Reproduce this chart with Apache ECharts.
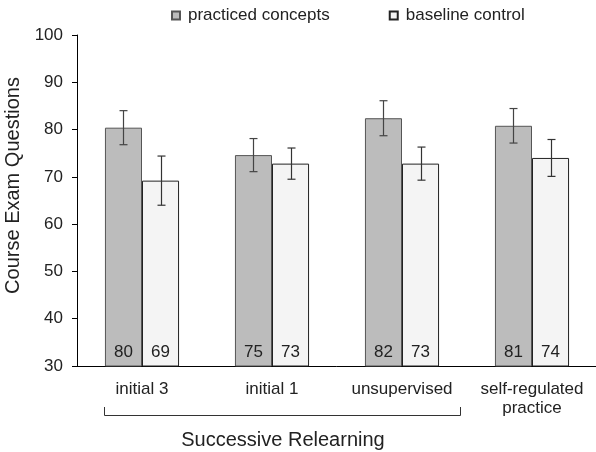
<!DOCTYPE html>
<html>
<head>
<meta charset="utf-8">
<script src="https://cdn.jsdelivr.net/npm/echarts@6/dist/echarts.min.js"></script>
<style>html,body{margin:0;padding:0;background:#fff}#c{width:596px;height:452px}</style>
</head>
<body>
<div id="c"></div>
<script>
const categories = ['initial 3', 'initial 1', 'unsupervised', 'self-regulated\npractice'];
const practiced = [80.4, 74.6, 82.4, 80.8];
const baseline = [69.2, 72.8, 72.8, 74.0];
const practicedErr = [3.6, 3.5, 3.7, 3.65];
const baselineErr = [5.2, 3.3, 3.5, 3.9];
const yTicks = [30, 40, 50, 60, 70, 80, 90, 100];
const seriesNames = ['practiced concepts', 'baseline control'];

const FONT = 'Liberation Sans, Arial, Helvetica, sans-serif';
const BAR_FRAC = 0.285;

const chart = echarts.init(document.getElementById('c'), null, {renderer: 'canvas'});

function errSeries(vals, errs, side, color) {
  return {
    type: 'custom',
    silent: true,
    z: 10,
    data: vals.map((v, i) => [i, v - errs[i], v + errs[i]]),
    renderItem: function (params, api) {
      const band = api.size([1, 0])[0];
      const off = side * band * BAR_FRAC / 2;
      const lo = api.coord([api.value(0), api.value(1)]);
      const hi = api.coord([api.value(0), api.value(2)]);
      const x = Math.round(lo[0] + off) + 0.5;
      const cap = 4;
      const st = {stroke: color, lineWidth: 1.2};
      return {
        type: 'group',
        children: [
          {type: 'line', shape: {x1: x, y1: lo[1], x2: x, y2: hi[1]}, style: st},
          {type: 'line', shape: {x1: x - cap, y1: lo[1], x2: x + cap, y2: lo[1]}, style: st},
          {type: 'line', shape: {x1: x - cap, y1: hi[1], x2: x + cap, y2: hi[1]}, style: st}
        ]
      };
    },
    encode: {x: 0, y: [1, 2]}
  };
}

const labelCfg = {
  show: true,
  position: 'insideBottom',
  distance: 6,
  color: '#222',
  fontSize: 17,
  fontFamily: FONT,
  formatter: p => Math.round(p.value)
};

chart.setOption({
  animation: false,
  textStyle: {fontFamily: FONT},
  legend: {
    data: seriesNames,
    left: 171,
    top: 7,
    padding: 0,
    itemWidth: 8,
    itemHeight: 8,
    itemGap: 59,
    icon: 'rect',
    textStyle: {fontSize: 17, color: '#222', fontFamily: FONT, padding: [0, 0, 0, 3]}
  },
  grid: {left: 77, right: -1, top: 35, bottom: 86, containLabel: false, outerBoundsMode: 'none'},
  xAxis: {
    type: 'category',
    data: categories,
    axisLine: {lineStyle: {color: '#000', width: 1}},
    axisTick: {show: false},
    axisLabel: {interval: 0, fontSize: 17, color: '#222', margin: 14, lineHeight: 19, fontFamily: FONT}
  },
  yAxis: {
    type: 'value',
    min: yTicks[0],
    max: yTicks[yTicks.length - 1],
    interval: 10,
    name: 'Course Exam Questions',
    nameLocation: 'middle',
    nameGap: 48,
    nameTextStyle: {fontSize: 20, color: '#222', fontFamily: FONT, padding: [0, 0, 0, 30]},
    axisLine: {show: true, lineStyle: {color: '#000', width: 1}},
    axisTick: {show: true, length: 5, lineStyle: {color: '#000'}},
    axisLabel: {fontSize: 17, color: '#222', margin: 14, fontFamily: FONT},
    splitLine: {show: false}
  },
  series: [
    {
      name: seriesNames[0],
      type: 'bar',
      data: practiced,
      barWidth: (BAR_FRAC * 100) + '%',
      barGap: '0%',
      itemStyle: {color: '#bcbcbc', borderColor: '#555', borderWidth: 1},
      label: labelCfg
    },
    {
      name: seriesNames[1],
      type: 'bar',
      data: baseline,
      barWidth: (BAR_FRAC * 100) + '%',
      barGap: '0%',
      itemStyle: {color: '#f4f4f4', borderColor: '#222', borderWidth: 1},
      label: labelCfg
    },
    errSeries(practiced, practicedErr, -1, '#444'),
    errSeries(baseline, baselineErr, 1, '#333')
  ],
  graphic: [
    {
      type: 'polyline',
      shape: {points: [[104.5, 407], [104.5, 415.5], [460.5, 415.5], [460.5, 407]]},
      style: {stroke: '#333', lineWidth: 1, fill: null}
    },
    {
      type: 'text',
      style: {text: 'Successive Relearning', fontSize: 20, fill: '#222', fontFamily: FONT, x: 283, y: 440, align: 'center', verticalAlign: 'middle'}
    }
  ]
});
</script>
</body>
</html>
